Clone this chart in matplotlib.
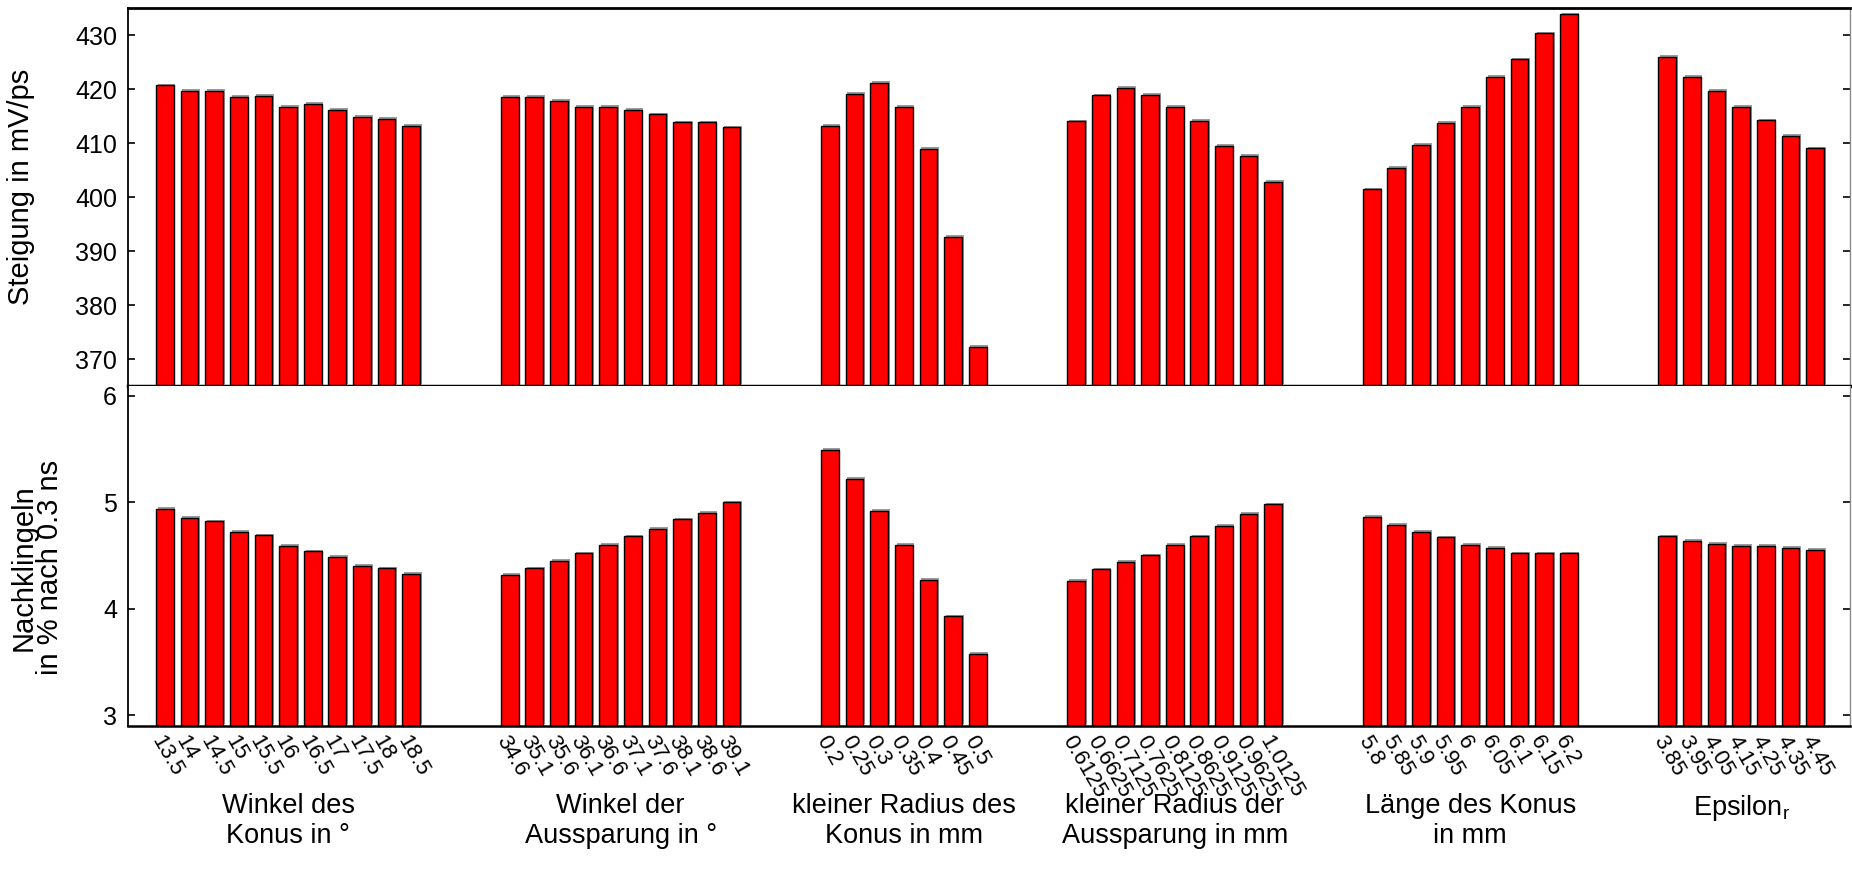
import matplotlib
matplotlib.use("Agg")
import matplotlib.pyplot as plt
import matplotlib.patheffects as pe
from matplotlib.transforms import blended_transform_factory

plt.rcParams["font.family"] = ["Liberation Sans", "DejaVu Sans"]

# parameter groups (x tick labels)
winkel_konus = ["13.5", "14", "14.5", "15", "15.5", "16", "16.5", "17", "17.5", "18", "18.5"]
winkel_aussparung = ["34.6", "35.1", "35.6", "36.1", "36.6", "37.1", "37.6", "38.1", "38.6", "39.1"]
radius_konus = ["0.2", "0.25", "0.3", "0.35", "0.4", "0.45", "0.5"]
radius_aussparung = ["0.6125", "0.6625", "0.7125", "0.7625", "0.8125", "0.8625", "0.9125", "0.9625", "1.0125"]
laenge_konus = ["5.8", "5.85", "5.9", "5.95", "6", "6.05", "6.1", "6.15", "6.2"]
epsilon_r = ["3.85", "3.95", "4.05", "4.15", "4.25", "4.35", "4.45"]

group_labels = [
    "Winkel des\nKonus in °",
    "Winkel der\nAussparung in °",
    "kleiner Radius des\nKonus in mm",
    "kleiner Radius der\nAussparung in mm",
    "Länge des Konus\nin mm",
    "Epsilon$_\\mathregular{r}$",
]

# slope in mV/ps
steigung = [
    [420.7, 419.7, 419.6, 418.5, 418.7, 416.7, 417.2, 416.2, 414.8, 414.5, 413.2],
    [418.5, 418.6, 417.8, 416.7, 416.7, 416.1, 415.3, 413.8, 413.8, 412.9],
    [413.2, 419.1, 421.2, 416.7, 408.9, 392.6, 372.2],
    [414.0, 418.8, 420.2, 418.9, 416.7, 414.1, 409.5, 407.6, 402.8],
    [401.4, 405.4, 409.7, 413.7, 416.7, 422.2, 425.5, 430.3, 433.8],
    [426.0, 422.3, 419.7, 416.7, 414.2, 411.3, 409.0],
]

# ringing in % after 0.3 ns
nachklingeln = [
    [4.94, 4.85, 4.82, 4.72, 4.69, 4.59, 4.54, 4.49, 4.40, 4.38, 4.33],
    [4.32, 4.38, 4.45, 4.52, 4.60, 4.68, 4.75, 4.84, 4.90, 5.00],
    [5.49, 5.22, 4.92, 4.60, 4.27, 3.93, 3.58],
    [4.26, 4.37, 4.44, 4.50, 4.60, 4.68, 4.78, 4.89, 4.98],
    [4.86, 4.79, 4.72, 4.67, 4.60, 4.57, 4.52, 4.52, 4.52],
    [4.68, 4.64, 4.61, 4.59, 4.59, 4.57, 4.55],
]

tick_groups = [winkel_konus, winkel_aussparung, radius_konus,
               radius_aussparung, laenge_konus, epsilon_r]

# bar positions with a gap of 3 empty slots between groups
gap = 3
pos, labels, top_vals, bot_vals, centers = [], [], [], [], []
x = 0
for ticks, s, n in zip(tick_groups, steigung, nachklingeln):
    start = x
    for t, a, b in zip(ticks, s, n):
        pos.append(x)
        labels.append(t)
        top_vals.append(a)
        bot_vals.append(b)
        x += 1
    centers.append((start + x - 1) / 2)
    x += gap

fig = plt.figure(figsize=(18.52, 8.81), dpi=100)
L, R = 128 / 1852, 1850 / 1852
ax1 = fig.add_axes([L, 1 - 386 / 881, R - L, (386 - 8) / 881])
ax2 = fig.add_axes([L, 1 - 726 / 881, R - L, (726 - 386) / 881])

shadow = [pe.SimplePatchShadow(offset=(1.2, 1.2), shadow_rgbFace="0.45", alpha=0.7), pe.Normal()]
width = 0.72

for ax, vals, ylim in [(ax1, top_vals, (365, 435)), (ax2, bot_vals, (2.9, 6.09))]:
    base = ylim[0]
    bars = ax.bar(pos, [v - base for v in vals], bottom=base, width=width,
                  color="#ff0000", edgecolor="black", linewidth=1.0)
    for b in bars:
        b.set_path_effects(shadow)
    ax.set_ylim(*ylim)
    ax.set_xlim(-1.5, pos[-1] + 1.42)
    ax.tick_params(axis="y", direction="in", length=5, width=1.2, right=True,
                   labelsize=18, pad=8)
    ax.tick_params(axis="x", length=0)
    ax.spines["right"].set_color("0.55")
    ax.spines["right"].set_linewidth(1.0)
    ax.spines["left"].set_linewidth(1.3)

ax1.set_yticks([370, 380, 390, 400, 410, 420, 430])
ax1.set_xticks([])
ax1.spines["top"].set_linewidth(2.0)
ax1.spines["bottom"].set_linewidth(2.5)
ax2.spines["top"].set_visible(False)
ax2.spines["bottom"].set_linewidth(1.8)
ax2.set_yticks([3, 4, 5, 6])

ax2.set_xticks(pos)
ax2.set_xticklabels(labels, rotation=-60, ha="left", va="top",
                    rotation_mode="anchor", fontsize=16)
ax2.tick_params(axis="x", pad=4)

ax1.set_ylabel("Steigung in mV/ps", fontsize=21)
ax2.set_ylabel("Nachklingeln\nin % nach 0.3 ns", fontsize=21, linespacing=0.95)
ax1.yaxis.set_label_coords(-0.054, 0.526)
ax2.yaxis.set_label_coords(-0.037, 0.465)

trans = blended_transform_factory(ax2.transData, fig.transFigure)
for cx, text in zip(centers, group_labels):
    ax2.text(cx, 1 - 793 / 881, text, transform=trans, ha="center", va="top",
             fontsize=19.5, linespacing=1.2)

fig.savefig("out.png", dpi=100)
